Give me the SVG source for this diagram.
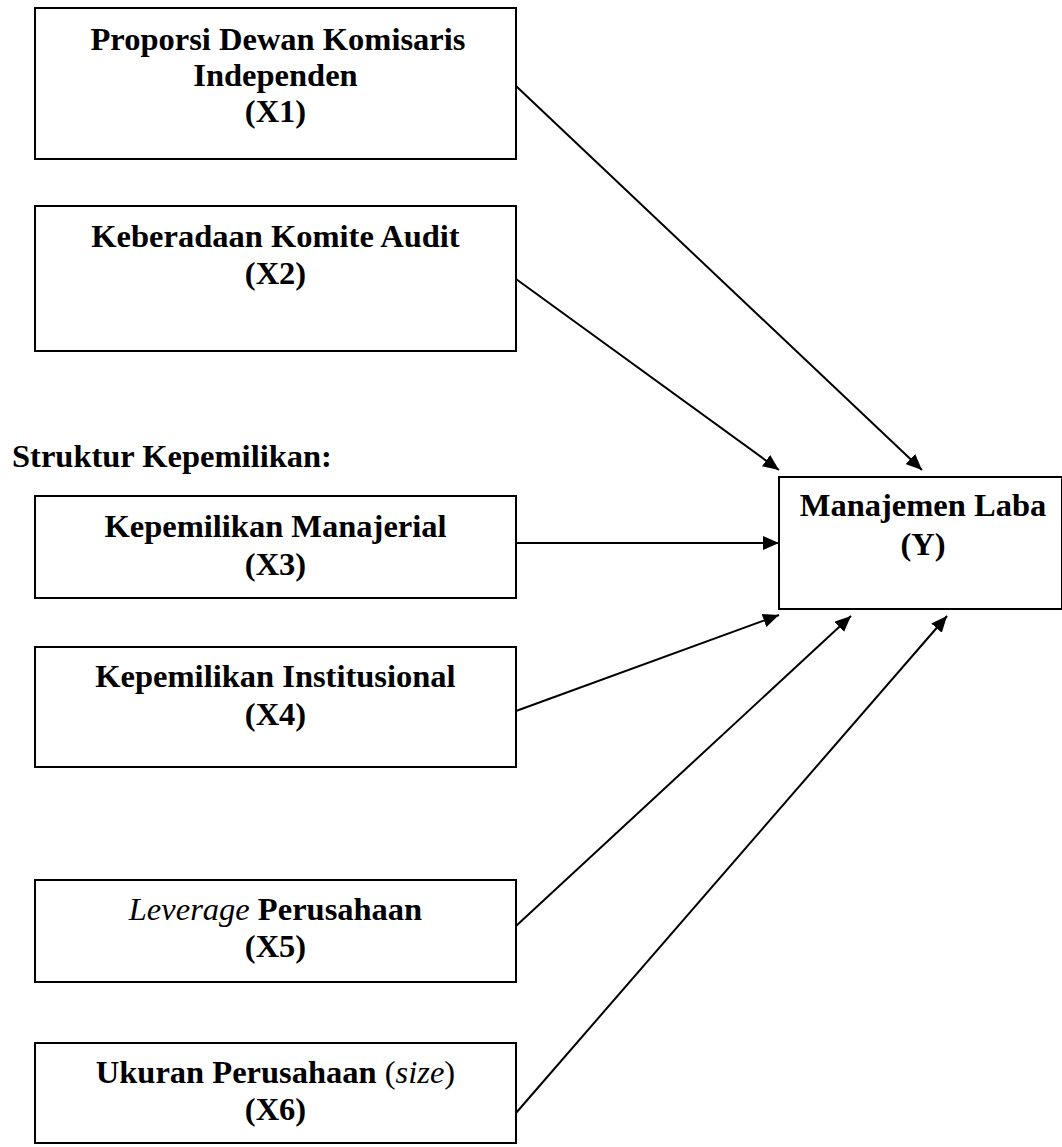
<svg xmlns="http://www.w3.org/2000/svg" width="1062" height="1147" viewBox="0 0 1062 1147">
<style>
.box{fill:#fff;stroke:#000;stroke-width:2}
.t{font-family:"Liberation Serif","Times New Roman",serif;font-size:32.5px;font-weight:bold;fill:#000;text-anchor:middle}
.it{font-style:italic;font-weight:normal}
.c{stroke:#000;stroke-width:2;fill:none;marker-end:url(#ah)}
</style>
<defs>
<marker id="ah" markerUnits="userSpaceOnUse" markerWidth="16" markerHeight="14" viewBox="0 0 16 14" refX="16" refY="7" orient="auto">
<path d="M0,0 L16,7 L0,14 z" fill="#000"/>
</marker>
</defs>
<rect width="1062" height="1147" fill="#fff"/>
<g id="x1">
<rect class="box" x="35" y="8" width="481" height="151"/>
<text class="t" x="278" y="50">Proporsi Dewan Komisaris</text>
<text class="t" x="275.5" y="86">Independen</text>
<text class="t" x="275.5" y="122">(X1)</text>
</g>
<g id="x2">
<rect class="box" x="35" y="206" width="481" height="145"/>
<text class="t" x="275.5" y="247">Keberadaan Komite Audit</text>
<text class="t" x="275.5" y="284">(X2)</text>
</g>
<g id="label">
<text class="t" x="12" y="467" style="text-anchor:start">Struktur Kepemilikan:</text>
</g>
<g id="x3">
<rect class="box" x="35" y="496" width="481" height="102"/>
<text class="t" x="275.5" y="537">Kepemilikan Manajerial</text>
<text class="t" x="275.5" y="575">(X3)</text>
</g>
<g id="x4">
<rect class="box" x="35" y="647" width="481" height="120"/>
<text class="t" x="275.5" y="687">Kepemilikan Institusional</text>
<text class="t" x="275.5" y="725">(X4)</text>
</g>
<g id="x5">
<rect class="box" x="35" y="880" width="481" height="102"/>
<text class="t" x="275.5" y="920"><tspan class="it">Leverage</tspan> Perusahaan</text>
<text class="t" x="275.5" y="957">(X5)</text>
</g>
<g id="x6">
<rect class="box" x="35" y="1043" width="481" height="100"/>
<text class="t" x="275.5" y="1083">Ukuran Perusahaan <tspan font-weight="normal">(<tspan font-style="italic">size</tspan>)</tspan></text>
<text class="t" x="275.5" y="1120">(X6)</text>
</g>
<g id="y">
<rect class="box" x="779" y="477" width="283" height="132"/>
<text class="t" x="923" y="516">Manajemen Laba</text>
<text class="t" x="923" y="555">(Y)</text>
</g>
<g id="connectors">
<path class="c" d="M516,86 L922,470"/>
<path class="c" d="M516,279 L779,470"/>
<path class="c" d="M516,543 L779,543"/>
<path class="c" d="M516,711 L779,615"/>
<path class="c" d="M516,926 L851,616"/>
<path class="c" d="M516,1113 L947,616"/>
</g>
</svg>
